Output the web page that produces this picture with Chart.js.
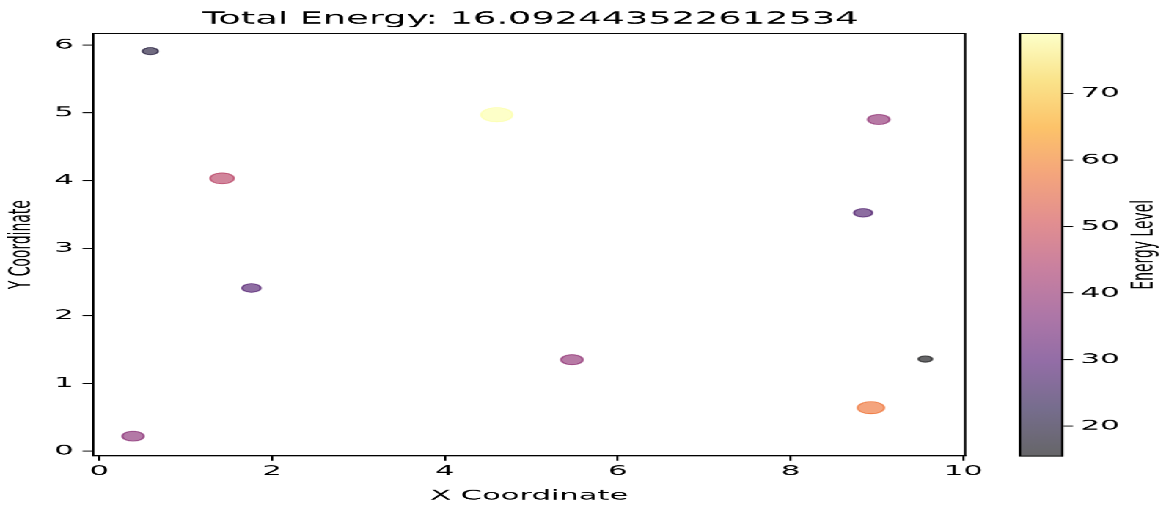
<!DOCTYPE html>
<html>
<head>
<meta charset="utf-8">
<script src="https://cdn.jsdelivr.net/npm/chart.js@4.4.1/dist/chart.umd.min.js"></script>
<style>
  html, body { margin: 0; padding: 0; background: #fff; overflow: hidden; }
  /* the figure is drawn narrow and stretched sideways */
  #stage { position: relative; width: 528px; height: 506px; transform: scaleX(2.2); transform-origin: 0 0; }
  #main { position: absolute; left: 0; top: 0; }
  #cbar { position: absolute; left: 460px; top: 0; }
</style>
</head>
<body>
<div id="stage">
  <canvas id="main" width="482" height="506"></canvas>
  <canvas id="cbar" width="68" height="506"></canvas>
</div>
<script>
// particle positions and energies
const xCoords  = [0.59, 4.60, 9.02, 1.42, 8.84, 1.76, 5.47, 9.56, 8.93, 0.39];
const yCoords  = [5.91, 4.97, 4.90, 4.03, 3.52, 2.41, 1.35, 1.36, 0.64, 0.22];
const energies = [20.0, 79.0, 39.0, 46.0, 28.0, 28.5, 39.0, 15.5, 57.5, 38.0];

const xTicks = [0, 2, 4, 6, 8, 10];
const yTicks = [0, 1, 2, 3, 4, 5, 6];
const cbarTicks = [20, 30, 40, 50, 60, 70];
const totalEnergy = "16.092443522612534";

const vMin = Math.min(...energies);
const vMax = Math.max(...energies);
const ALPHA = 0.6;

// inferno colormap, 10 evenly spaced stops
const inferno = [
  [0, 0, 4], [27, 12, 65], [74, 12, 107], [120, 28, 109], [165, 44, 96],
  [207, 68, 70], [237, 105, 37], [251, 155, 6], [247, 209, 61], [252, 255, 164]
];

function infernoColor(t, a) {
  t = Math.max(0, Math.min(1, t));
  const p = t * (inferno.length - 1);
  const i = Math.min(Math.floor(p), inferno.length - 2);
  const f = p - i;
  const c = inferno[i].map((v, k) => Math.round(v + (inferno[i + 1][k] - v) * f));
  return `rgba(${c[0]},${c[1]},${c[2]},${a})`;
}

function energyColor(e) {
  return infernoColor((e - vMin) / (vMax - vMin), ALPHA);
}

const font = { family: "'DejaVu Sans', sans-serif", size: 13.9 };

const frame = {
  id: 'frame',
  afterDraw(chart) {
    const a = chart.chartArea;
    const ctx = chart.ctx;
    ctx.save();
    ctx.strokeStyle = '#000';
    ctx.lineWidth = 1;
    ctx.strokeRect(a.left, a.top, a.right - a.left, a.bottom - a.top);
    ctx.restore();
  }
};

new Chart(document.getElementById('main'), {
  type: 'scatter',
  data: {
    datasets: [{
      data: xCoords.map((x, i) => ({ x: x, y: yCoords[i] })),
      backgroundColor: ctx => energyColor(energies[ctx.dataIndex]),
      borderColor: ctx => energyColor(energies[ctx.dataIndex]),
      borderWidth: 1,
      pointRadius: ctx => 0.8 * Math.sqrt(energies[ctx.dataIndex])
    }]
  },
  options: {
    responsive: false,
    animation: false,
    devicePixelRatio: 2.2,
    events: [],
    plugins: {
      legend: { display: false },
      tooltip: { enabled: false },
      title: {
        display: true,
        text: 'Total Energy: ' + totalEnergy,
        color: '#000',
        font: { family: font.family, size: 16.7, weight: 'normal' },
        padding: { top: 9.5, bottom: 4 }
      }
    },
    scales: {
      x: {
        type: 'linear',
        min: -0.07,
        max: 10.02,
        afterBuildTicks: s => { s.ticks = xTicks.map(v => ({ value: v })); },
        afterFit: s => { s.height = 50.3; },
        grid: { drawOnChartArea: false, drawTicks: true, tickLength: 4.9, tickColor: '#000' },
        border: { display: true, color: '#000', width: 1 },
        ticks: { color: '#000', font: font, padding: 2.5, maxRotation: 0 },
        title: { display: true, text: 'X Coordinate', color: '#000', font: font, padding: { top: 0, bottom: 1.7 } }
      },
      y: {
        type: 'linear',
        min: -0.07,
        max: 6.17,
        afterBuildTicks: s => { s.ticks = yTicks.map(v => ({ value: v })); },
        afterFit: s => { s.width = 42.4; },
        grid: { drawOnChartArea: false, drawTicks: true, tickLength: 4.9, tickColor: '#000' },
        border: { display: true, color: '#000', width: 1 },
        ticks: { color: '#000', font: font, padding: 4 },
        title: { display: true, text: 'Y Coordinate', color: '#000', font: font, padding: { top: 1.7, bottom: 0 } }
      },
      // empty right-hand strip so the plot keeps its right margin
      gap: {
        type: 'linear',
        position: 'right',
        afterFit: s => { s.width = 43.5; },
        grid: { display: false },
        border: { display: false },
        ticks: { display: false }
      }
    }
  },
  plugins: [frame]
});

// colour bar: gradient fill, outline and rotated label
const colorbar = {
  id: 'colorbar',
  beforeDatasetsDraw(chart) {
    const a = chart.chartArea;
    const ctx = chart.ctx;
    const g = ctx.createLinearGradient(0, a.bottom, 0, a.top);
    inferno.forEach((c, i) => g.addColorStop(i / (inferno.length - 1), `rgba(${c[0]},${c[1]},${c[2]},${ALPHA})`));
    ctx.save();
    ctx.fillStyle = g;
    ctx.fillRect(a.left, a.top, a.right - a.left, a.bottom - a.top);
    ctx.strokeStyle = '#000';
    ctx.lineWidth = 1;
    ctx.strokeRect(a.left, a.top, a.right - a.left, a.bottom - a.top);
    ctx.translate(60.2, (a.top + a.bottom) / 2);
    ctx.rotate(-Math.PI / 2);
    ctx.fillStyle = '#000';
    ctx.font = `${font.size}px ${font.family}`;
    ctx.textAlign = 'center';
    ctx.textBaseline = 'middle';
    ctx.fillText('Energy Level', 0, 0);
    ctx.restore();
  }
};

new Chart(document.getElementById('cbar'), {
  type: 'scatter',
  data: { datasets: [] },
  options: {
    responsive: false,
    animation: false,
    devicePixelRatio: 2.2,
    events: [],
    layout: { padding: { left: 3.6, right: 0, top: 33.5, bottom: 50 } },
    plugins: { legend: { display: false }, tooltip: { enabled: false } },
    scales: {
      x: { display: false, min: 0, max: 1 },
      y: {
        position: 'right',
        min: vMin,
        max: vMax,
        afterBuildTicks: s => { s.ticks = cbarTicks.map(v => ({ value: v })); },
        afterFit: s => { s.width = 45.3; },
        grid: { drawOnChartArea: false, drawTicks: true, tickLength: 4.9, tickColor: '#000' },
        border: { display: true, color: '#000', width: 1 },
        ticks: { color: '#000', font: font, padding: 3.4 }
      }
    }
  },
  plugins: [colorbar]
});
</script>
</body>
</html>
